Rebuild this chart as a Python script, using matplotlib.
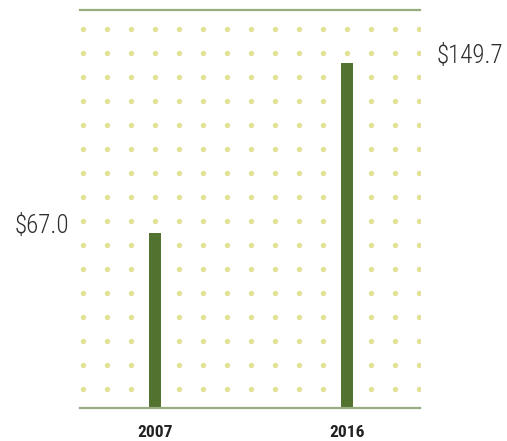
import numpy as np
import matplotlib
matplotlib.use("Agg")
import matplotlib.pyplot as plt
import matplotlib.transforms as mtransforms

# ---------------------------------------------------------
# Data
# ---------------------------------------------------------
years = ["2007", "2016"]
values = [67.0, 149.7]
labels = ["$67.0", "$149.7"]

# bars sit on columns of the dot grid
bar_cols = [3, 11]

plt.rcParams["font.family"] = ["Roboto Condensed", "DejaVu Sans"]

fig = plt.figure(figsize=(5.07, 4.41), dpi=100)
ax = fig.add_axes([80 / 507, 33 / 441, 340 / 507, 398.5 / 441])

ymin, ymax = -18.1, 175.7
ax.set_xlim(-0.125, 14.042)
ax.set_ylim(ymin, ymax)

# ---------------------------------------------------------
# Dot background
# ---------------------------------------------------------
dot_x = (3 + 24 * np.arange(15)) / 340
dot_y = (408 - (29 + 24 * np.arange(16))) / 398.5
gx, gy = np.meshgrid(dot_x, dot_y)
ax.scatter(gx.ravel(), gy.ravel(), s=15, color="#e2e296",
           linewidths=0, transform=ax.transAxes, zorder=1)

# ---------------------------------------------------------
# Bars
# ---------------------------------------------------------
heights = [v - ymin for v in values]
ax.bar(bar_cols, heights, bottom=ymin, width=0.46,
       color="#52722f", zorder=2)

# ---------------------------------------------------------
# Value labels
# ---------------------------------------------------------
trans = mtransforms.blended_transform_factory(ax.transAxes, ax.transData)
ax.text(-0.032, values[0], labels[0], transform=trans, ha="right",
        va="baseline", fontsize=18, fontweight="light", color="#2e2e2e")
ax.text(1.05, values[1], labels[1], transform=trans, ha="left",
        va="baseline", fontsize=18, fontweight="light", color="#2e2e2e")

# ---------------------------------------------------------
# Frame
# ---------------------------------------------------------
for side in ["left", "right"]:
    ax.spines[side].set_visible(False)
for side in ["top", "bottom"]:
    ax.spines[side].set_color("#97ad80")
    ax.spines[side].set_linewidth(1.6)

ax.set_yticks([])
ax.set_xticks(bar_cols)
ax.set_xticklabels(years, fontsize=12.5, fontweight="bold", color="#222222")
ax.tick_params(axis="x", length=0, pad=12.5)

fig.savefig("out.png", dpi=100)
